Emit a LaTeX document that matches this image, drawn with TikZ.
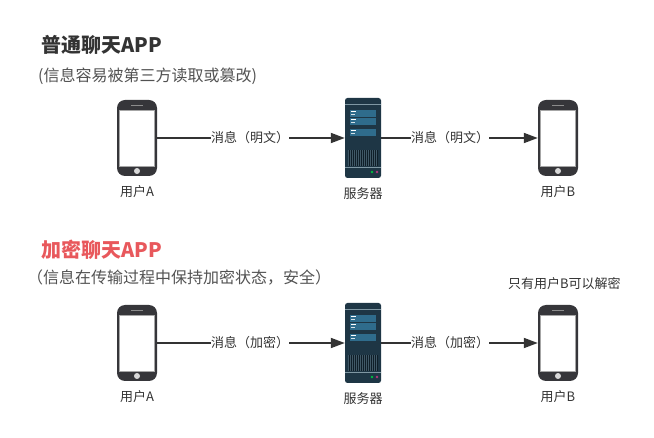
\documentclass[tikz,border=0pt]{standalone}
\usepackage{fontspec}
\setmainfont{Noto Sans CJK SC}
\usetikzlibrary{arrows.meta,calc}
\definecolor{ink}{HTML}{333333}
\definecolor{casing}{HTML}{36363A}
\definecolor{rack}{HTML}{1E3645}
\definecolor{rackline}{HTML}{7F97A3}
\definecolor{panel}{HTML}{2F6C8C}
\definecolor{vent}{HTML}{0F1E28}
\definecolor{alert}{HTML}{E8585C}
\tikzset{
  x=1pt,y=-1pt,
  heading/.style={anchor=west,inner sep=0,font=\fontsize{20}{24}\selectfont\bfseries},
  subheading/.style={anchor=west,inner sep=0,text=ink!85,font=\fontsize{16}{20}\selectfont},
  caption/.style={inner sep=0,text=ink,font=\fontsize{13}{16}\selectfont},
  phonebody/.style={draw=none,fill=casing,rounded corners=8pt,minimum width=40pt,minimum height=76pt,inner sep=0},
  serverbody/.style={draw=none,fill=rack,rounded corners=2.5pt,minimum width=36pt,minimum height=80pt,inner sep=0},
  wire/.style={draw=ink,line width=1.8pt},
  arrowwire/.style={wire,-{Triangle[length=14pt,width=10pt]}},
}
% Smartphone centred on (#2,#3), named #1
\newcommand{\phoneicon}[3]{%
  \node[phonebody] (#1) at (#2,#3) {};
  \fill[white,draw=black!35,line width=.5pt] ($(#1.center)+(-17.5,-28)$) rectangle ($(#1.center)+(17.5,28)$);
  \fill[white!85!black] ($(#1.center)+(0,33)$) circle (3pt);
  \fill[black!45] ($(#1.center)+(-6,-33)$) rectangle ($(#1.center)+(6,-31.6)$);
}
% Rack server centred on (#2,#3), named #1
\newcommand{\servericon}[3]{%
  \node[serverbody] (#1) at (#2,#3) {};
  \begin{scope}[shift={(#1.center)}]
    \fill[rackline] (-18,-33.6) rectangle (18,-32.6);
    \fill[rackline] (-18,29) rectangle (18,30);
    \foreach \ya/\yb in {-28/-21,-20/-13,-9/-2}{
      \fill[panel] (-13,\ya) rectangle (13,\yb);
      \fill[white] (-12,\ya+1.5) rectangle (-7,\ya+2.5);
      \fill[white!80!panel] (-12,\ya+4.5) rectangle (-8,\ya+5.5);
    }
    \fill[vent] (-15,12) rectangle (15,28);
    \foreach \i in {0,...,14}{\fill[rackline!35!rack] (-14.6+2*\i,12) rectangle (-14.1+2*\i,28);}
    \fill[green!50!teal] (9,34) circle (1.3pt);
    \fill[magenta!70!black] (14,34) circle (1.3pt);
  \end{scope}
}
\begin{document}
\begin{tikzpicture}
\useasboundingbox (0,0) rectangle (654,438);
\node[heading,text=ink] (titleplain) at (41,45) {普通聊天APP};
\node[subheading] (subplain) at (38,76) {(信息容易被第三方读取或篡改)};
\node[heading,text=alert] (titlesecure) at (41,250) {加密聊天APP};
\node[subheading] (subsecure) at (27,278) {（信息在传输过程中保持加密状态，安全）};
\node[caption,anchor=west] (onlyb) at (508,284) {只有用户B可以解密};

% Plain message route
\phoneicon{pa}{137}{138}
\servericon{sa}{363}{138}
\phoneicon{pb}{558}{138}
\node[caption] (ua) at (137,192) {用户A};
\node[caption] (srva) at (363,194) {服务器};
\node[caption] (ub) at (558,192) {用户B};
\node[caption] (ma) at (250,138) {消息（明文）};
\node[caption] (mb) at (450,138) {消息（明文）};
\draw[wire] (pa.east) -- (ma.west);
\draw[arrowwire] (ma.east) -- (sa.west);
\draw[wire] (sa.east) -- (mb.west);
\draw[arrowwire] (mb.east) -- (pb.west);

% Encrypted message route
\phoneicon{pc}{137}{343}
\servericon{sb}{363}{343}
\phoneicon{pd}{558}{343}
\node[caption] (uc) at (137,397) {用户A};
\node[caption] (srvb) at (363,399) {服务器};
\node[caption] (ud) at (558,397) {用户B};
\node[caption] (mc) at (250,343) {消息（加密）};
\node[caption] (md) at (450,343) {消息（加密）};
\draw[wire] (pc.east) -- (mc.west);
\draw[arrowwire] (mc.east) -- (sb.west);
\draw[wire] (sb.east) -- (md.west);
\draw[arrowwire] (md.east) -- (pd.west);
\end{tikzpicture}
\end{document}
